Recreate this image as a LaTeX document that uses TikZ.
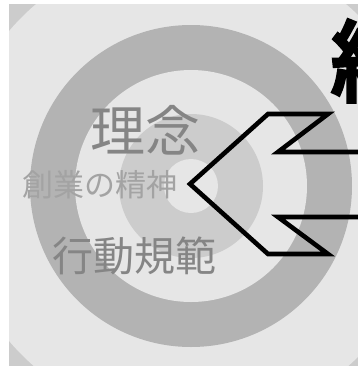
\documentclass[tikz,border=0pt]{standalone}
\usepackage{fontspec}
\newfontfamily\cjk{Noto Sans CJK JP}
\newfontfamily\cjkheavy{Noto Sans CJK JP}[FakeBold=5]
\definecolor{bgc}{HTML}{E6E6E6}
\definecolor{ringA}{HTML}{CCCCCC}
\definecolor{ringB}{HTML}{B3B3B3}
\definecolor{txtA}{HTML}{858585}
\definecolor{txtB}{HTML}{A3A3A3}
\tikzset{
  label/.style={inner sep=0pt, anchor=center},
  chevron/.style={draw=black, line width=4.6bp, line join=miter, miter limit=10},
}
\begin{document}
\begin{tikzpicture}[x=1bp,y=-1bp]
\useasboundingbox (0,0) rectangle (358,366);
\fill[white] (0,0) rectangle (358,366);
\begin{scope}
  \clip (9,4) rectangle (358,366);
  \fill[ringA] (9,4) rectangle (358,366);
  \fill[bgc] (191,186) circle[radius=239];
  \fill[ringB] (191,186) circle[radius=161];
  \fill[bgc] (191,186) circle[radius=116];
  \fill[ringA] (191,186) circle[radius=72];
  \fill[bgc] (191,186) circle[radius=27];
  \node[label, anchor=west, text=black] (title) at (331,61)
    {\cjkheavy\fontsize{88bp}{88bp}\selectfont 経};
  \draw[chevron] (370,152) -- (278,152) -- (328,114) -- (268,114) -- (190,184)
    -- (268,254) -- (328,254) -- (278,217) -- (370,217);
\end{scope}
\node[label, text=txtA] (rinen) at (146,130)
  {\cjk\fontsize{55bp}{55bp}\selectfont 理念};
\node[label, text=txtB] (sougyou) at (100,185)
  {\cjk\fontsize{31bp}{31bp}\selectfont 創業の精神};
\node[label, text=txtA] (koudou) at (135,256)
  {\cjk\fontsize{41bp}{41bp}\selectfont 行動規範};
\end{tikzpicture}
\end{document}
